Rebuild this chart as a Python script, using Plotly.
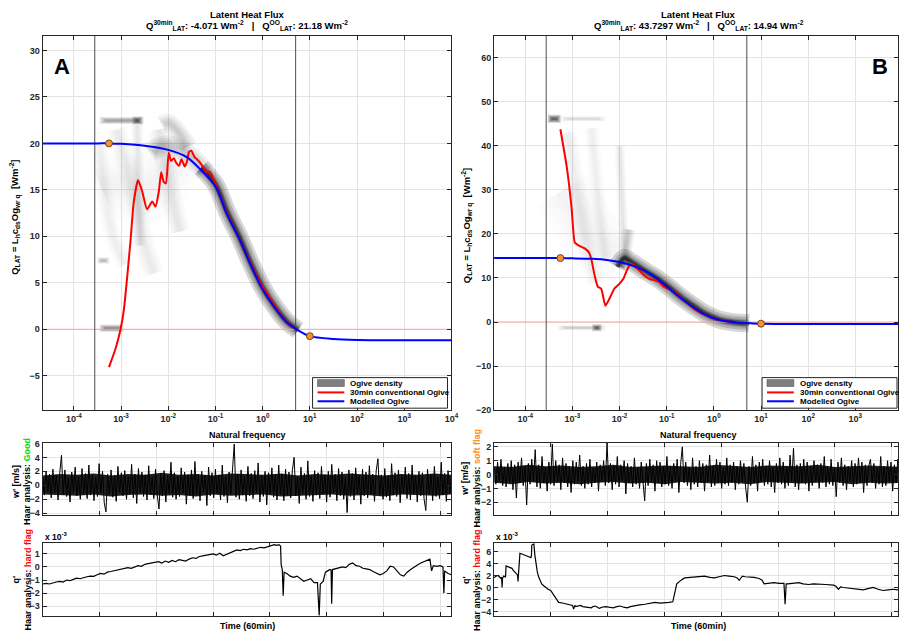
import plotly.graph_objects as go

W, H = 905, 634
FONT = "Liberation Sans, Arial, sans-serif"
AX = "#262626"
GRID = "#e4e4e4"

# ---------------- panel A : ogives (log10 frequency, W m-2) ----------------
a_model_logf = [-4.7, -3.5, -3.2553, -3.0, -2.5, -2.0, -1.6, -1.3, -1.0, -0.75, -0.5,
                -0.25, 0.0, 0.25, 0.5, 0.7, 1.0, 1.5, 2.0, 3.0, 4.0]
a_model_q = [20.0, 20.0, 20.0, 19.95, 19.75, 19.3, 18.5, 17.1, 15.4, 12.3, 9.8,
             6.9, 4.3, 2.4, 0.8, 0.05, -0.74, -1.05, -1.15, -1.18, -1.18]
a_conv_logf = [-3.2553, -3.12, -3.01, -2.94, -2.87, -2.80, -2.73, -2.64, -2.55, -2.45,
               -2.34, -2.27, -2.20, -2.15, -2.10, -2.05, -1.99, -1.94, -1.88, -1.83,
               -1.77, -1.72, -1.65, -1.60, -1.56, -1.51, -1.44, -1.39, -1.34, -1.27,
               -1.20, -1.14, -1.09, -0.99, -0.88, -0.74, -0.53, -0.32, -0.11, 0.18,
               0.46, 0.699]
a_conv_q = [-4.071, -2.15, 0.0, 2.1, 5.6, 9.5, 13.7, 16.05, 14.8, 12.9,
            13.75, 13.2, 14.8, 16.9, 15.9, 15.7, 19.0, 18.1, 18.4, 17.9,
            17.6, 18.3, 17.5, 18.1, 19.1, 19.2, 18.5, 18.3, 18.0, 17.5,
            16.9, 17.0, 16.75, 15.5, 14.1, 12.3, 10.1, 7.8, 5.6, 3.15,
            1.0, 0.0]

# ---------------- panel B : ogives ----------------
b_model_logf = [-4.7, -3.5, -3.2553, -3.0, -2.6, -2.35, -2.0, -1.65, -1.30, -0.95,
                -0.60, -0.25, 0.10, 0.45, 0.70, 1.0, 1.5, 2.0, 3.0, 4.0]
b_model_q = [14.5, 14.5, 14.5, 14.45, 14.35, 14.2, 13.6, 12.5, 10.6, 7.6,
             4.6, 2.0, 0.5, -0.07, -0.22, -0.38, -0.43, -0.44, -0.44, -0.44]
b_conv_logf = [-3.2553, -3.12, -3.02, -2.95, -2.88, -2.74, -2.65, -2.60, -2.53, -2.46,
               -2.39, -2.30, -2.21, -2.11, -2.0, -1.92, -1.83, -1.76, -1.69, -1.58,
               -1.48, -1.37, -1.27, -1.16, -1.06, -0.95, -0.81, -0.60, -0.39, -0.11,
               0.17, 0.45, 0.699]
b_conv_q = [43.7297, 35.2, 26.2, 18.05, 17.45, 16.7, 15.8, 14.3, 10.6, 8.0,
            7.6, 3.7, 5.4, 7.6, 8.7, 9.8, 12.1, 13.2, 12.8, 11.7,
            10.6, 9.8, 9.5, 9.1, 8.0, 7.45, 6.7, 4.6, 2.75, 1.27,
            0.37, -0.07, -0.2]

# marker frequencies on the modelled ogive: 1/1800 Hz and 10 Hz
marker_logf = [-3.2553, 1.0]

# averaging-period and Nyquist limits (Hz)
f_period = 1 / 3600
f_nyquist = 5.0

# ---------------- ogive-density streaks (log10 f, flux) ----------------
da_core_f = [-1.3, -1.0, -0.75, -0.5, -0.25, 0.0, 0.25, 0.5, 0.75]
da_core_q = [17.4, 15.6, 12.6, 10.0, 7.1, 4.5, 2.5, 0.9, -0.1]
da_upper_f = [-2.4, -2.2, -2.0, -1.8, -1.6, -1.4, -1.2]
da_upper_q = [19.0, 19.6, 19.8, 19.5, 18.9, 18.0, 16.9]
da_cloud_f = [-2.15, -2.0, -1.85, -1.7, -1.55]
da_cloud_q = [22.0, 22.2, 21.6, 20.6, 19.6]
da_top_f = [-3.45, -3.1, -2.8, -2.52]
da_top_q = [22.45, 22.45, 22.45, 22.45]
da_topdark_f = [-2.76, -2.55]
da_topdark_q = [22.45, 22.45]
da_zero_f = [-3.45, -3.2, -2.95]
da_zero_q = [0.1, 0.1, 0.1]
da_low_f = [-3.5, -3.25]
da_low_q = [7.4, 7.4]
da_trail1_f = [-3.1, -2.9, -2.7, -2.5, -2.3]
da_trail1_q = [21.5, 18.0, 14.0, 9.0, 6.0]
da_trail2_f = [-2.66, -2.63, -2.6]
da_trail2_q = [22.0, 15.0, 9.0]
da_trail3_f = [-3.45, -3.3, -3.1, -2.9]
da_trail3_q = [20.0, 13.0, 9.0, 7.0]
da_trail4_f = [-2.2, -2.05, -1.9, -1.75]
da_trail4_q = [21.5, 17.5, 13.5, 10.5]
da_haze_f = [-3.4, -3.0, -2.6, -2.2, -1.8]
da_haze_q = [15.0, 15.5, 14.5, 16.0, 19.0]

db_core_f = [-2.05, -1.9, -1.8, -1.6, -1.4, -1.2, -0.95, -0.7, -0.45, -0.2, 0.1, 0.4, 0.75]
db_core_q = [12.5, 14.5, 14.0, 12.6, 11.2, 9.9, 7.9, 5.7, 3.8, 2.0, 0.6, -0.05, -0.3]
db_peak_f = [-1.9, -1.85, -1.8]
db_peak_q = [13.0, 17.5, 21.0]
db_top_f = [-3.52, -3.38, -3.25]
db_top_q = [46.1, 46.1, 46.1]
db_topfaint_f = [-3.25, -2.8, -2.3]
db_topfaint_q = [46.1, 46.1, 46.1]
db_bot_f = [-3.3, -2.8, -2.3]
db_bot_q = [-1.3, -1.3, -1.3]
db_botdark_f = [-2.58, -2.38]
db_botdark_q = [-1.3, -1.3]
db_trail1_f = [-3.1, -2.9, -2.7, -2.5]
db_trail1_q = [43.0, 30.0, 18.0, 9.0]
db_trail2_f = [-2.6, -2.45, -2.3]
db_trail2_q = [44.0, 28.0, 14.0]
db_trail3_f = [-2.0, -1.95, -1.9]
db_trail3_q = [40.0, 28.0, 16.0]
db_haze_f = [-3.2, -2.9, -2.6, -2.3, -2.0]
db_haze_q = [30.0, 25.0, 20.0, 17.0, 16.0]

# ---------------- time series (60 min record) ----------------
wa = [1.2, -1.4, 2.0, -0.9, 1.6, -1.8, 2.3, -1.1, 1.4, -2.1, 1.8, 4.3, -1.3, 2.2, -1.6, 1.1, -2.4, 1.9, -1.0, 2.6,
      -1.5, 1.3, -2.0, 2.4, -1.2, 1.7, -1.9, 2.9, -1.4, 1.5, -2.2, 1.2, -1.6, 3.1, -1.1, 2.0, -2.5, -3.8, 1.6, -1.3,
      2.2, -1.7, 1.4, -2.3, 2.7, -1.0, 1.8, -1.5, 2.1, -2.0, 1.3, -1.2, 3.0, -1.8, 1.6, -2.6, 2.4, -1.1, 1.9, -1.6,
      1.5, -2.1, 2.8, -1.3, 1.2, -1.9, 2.3, -1.4, -3.4, 1.7, -1.5, 2.1, -2.4, 1.4, -1.2, 3.3, -1.7, 1.8, -2.0, 1.3,
      -1.6, 2.5, -1.1, 1.9, -2.7, 1.5, -1.4, 2.2, -1.9, 3.4, -1.3, 1.6, -2.2, 2.0, -1.0, 1.4, -2.9, 2.6, -1.5, 1.8,
      -1.8, 2.3, -1.2, 1.5, -2.1, 2.9, -1.6, 1.2, -2.5, 1.9, -1.3, 2.4, 5.9, -1.7, 1.6, -2.0, 2.2, -1.4, 1.3, -2.3,
      2.7, -1.5, 1.7, -1.9, 2.1, -1.1, 3.2, -2.4, 1.4, -1.6, 2.0, -2.8, 1.8, -1.2, 2.5, -1.7, 1.5, -2.1, 2.9, -1.3,
      1.6, -2.2, 2.3, -1.4, 1.9, -1.8, 2.2, 4.0, -1.5, 1.3, -2.6, 2.6, -1.2, 1.7, -2.0, 3.5, -1.6, 1.4, -2.3, 2.1,
      -1.4, 1.8, -1.9, 2.7, -1.3, 1.5, -2.4, 2.0, -1.7, 3.0, -1.1, 1.6, -2.2, 2.4, -1.5, 1.9, -2.0, 1.2, -3.9, 2.2,
      -1.6, 1.7, -2.1, 2.5, -1.2, 1.4, -2.7, 2.3, -1.5, 1.9, -1.8, 2.8, -1.3, 1.6, -2.3, 2.1, 3.8, -1.4, 1.5, -2.0,
      2.4, -1.7, 1.3, -2.2, 3.1, -1.4, 1.8, -1.6, 2.2, -2.5, 1.5, -1.2, 2.6, -1.9, 1.7, -2.1, 2.9, -1.3, 1.4, -2.4,
      2.0, -1.5, 1.8, -2.0, -3.6, 2.3, -1.3, 1.6, -2.2, 2.7, -1.6, 1.2, -1.9, 3.3, -1.4, 1.7, -2.3, 2.1, -1.1, 1.5]
wb = [0.6, -0.7, 0.9, -0.5, 1.1, -0.8, 0.5, -0.9, 0.8, -0.6, 1.0, -1.1, 0.7, -1.7, 0.9, -0.6, 1.2, -0.8, 0.6, -2.2,
      0.8, -0.7, 1.1, -0.5, 1.8, -0.9, 0.7, -1.0, 1.3, -0.6, 0.5, -1.2, 0.9, -0.7, 2.2, -0.8, 1.0, -0.5, 0.7, -1.1,
      1.2, -0.6, 0.8, -0.9, 0.6, -1.3, 1.0, -0.7, 0.9, -0.5, 1.4, -0.8, 0.6, -1.0, 0.8, -0.7, 1.1, -0.9, 0.5, -0.6,
      0.9, -1.2, 0.7, -0.5, 1.0, -0.8, 2.3, -0.6, 0.8, -1.1, 0.6, -0.7, 1.3, -0.9, 0.7, -0.5, 1.0, -1.4, 0.8, -0.6,
      0.6, -0.9, 1.2, -0.7, 0.5, -1.0, 0.9, -0.6, -1.9, 0.8, -0.8, 1.1, -0.5, 0.7, -1.2, 1.0, -0.6, 0.9, -0.9, 0.6,
      -0.7, 1.3, -0.8, 0.6, -1.0, 0.8, -0.5, 1.1, -1.3, 0.7, 2.0, -0.6, 0.9, -0.8, 0.5, -1.1, 1.2, -0.7, 0.6, -0.9,
      1.0, -0.6, 0.8, -1.2, 0.7, -0.5, 1.4, -0.9, 0.6, -0.8, 1.1, -0.6, 0.9, -1.0, 0.5, -0.7, 1.2, -0.8, 0.7, -0.6,
      0.9, -1.1, 0.6, -0.7, 1.0, -0.5, 0.8, -0.9, -2.0, 0.6, -0.8, 1.3, -0.6, 0.7, -1.2, 0.9, -0.5, 1.1, -0.8, 0.6,
      -0.7, 1.0, -0.9, 0.5, -1.3, 0.8, -0.6, 1.2, -0.7, 0.9, -1.0, 0.6, -0.8, 1.4, -0.5, 1.9, -0.9, 0.7, -1.1, 0.8,
      -0.6, 1.1, -0.7, 0.9, -1.2, 0.6, -0.8, 1.0, -0.5, 0.7, -1.0, 0.8, -0.6, 1.3, -0.9, 0.6, -0.7, 1.1, -0.8, 0.5,
      -1.6, 0.9, -0.6, 1.2, -0.8, 0.7, -1.1, 0.6, -0.5, 1.0, -0.9, 0.8, -0.7, 1.2, -0.6, 0.9, -1.3, 0.7, -0.8, 0.6,
      1.1, -0.6, 0.8, -1.0, 0.5, -0.7, 1.3, -0.9, 0.6, -0.8, 1.0, -0.5, 0.9, -1.2, 0.7, -0.6, 1.1, -0.8, 0.6, -0.7]

# dense core of w' (upper / lower edge of the solid band)
wa_core_hi = [1.4, 1.6, 1.5, 1.7, 1.4, 1.6, 1.5, 1.8, 1.5, 1.6, 1.4, 1.7, 1.6, 1.5, 1.7, 1.4, 1.6, 1.5, 1.7,
              1.6, 1.4, 1.6, 1.5, 1.7, 1.5]
wa_core_lo = [-1.3, -1.4, -1.5, -1.3, -1.6, -1.4, -1.3, -1.5, -1.4, -1.6, -1.3, -1.5, -1.4, -1.3, -1.6, -1.5,
              -1.4, -1.3, -1.5, -1.4, -1.6, -1.3, -1.4, -1.5, -1.3]
wb_core_hi = [0.6, 0.55, 0.7, 0.6, 0.65, 0.55, 0.6, 0.7, 0.55, 0.6, 0.65, 0.6, 0.55, 0.7, 0.6, 0.55, 0.65, 0.6,
              0.6, 0.7, 0.55, 0.6, 0.65, 0.6, 0.55]
wb_core_lo = [-0.6, -0.7, -0.55, -0.65, -0.6, -0.7, -0.6, -0.55, -0.65, -0.6, -0.7, -0.55, -0.6, -0.65, -0.6,
              -0.7, -0.55, -0.6, -0.65, -0.6, -0.55, -0.7, -0.6, -0.65, -0.6]

# humidity fluctuation q' (x 1e-3), time in seconds
qa_t = [0, 30, 60, 90, 120, 150, 180, 210, 240, 270, 300, 330, 360, 390, 420, 450, 480, 510, 540, 570,
        600, 630, 660, 690, 720, 750, 780, 810, 840, 870, 900, 930, 960, 990, 1020, 1050, 1080, 1110,
        1140, 1170, 1200, 1230, 1260, 1290, 1320, 1350, 1380, 1410, 1440, 1470, 1500, 1530, 1560, 1590,
        1620, 1650, 1680, 1710, 1740, 1770, 1800, 1830, 1860, 1890, 1920, 1950, 1980, 2010, 2040, 2060,
        2080, 2095, 2100, 2110, 2118, 2126, 2150, 2180, 2210, 2240, 2270, 2300, 2330, 2360, 2390, 2420,
        2435, 2445, 2470, 2490, 2510, 2530, 2540, 2545, 2552, 2580, 2610, 2640, 2670, 2700, 2730, 2760,
        2790, 2820, 2850, 2880, 2910, 2940, 2970, 3000, 3030, 3060, 3090, 3120, 3150, 3180, 3210, 3240,
        3270, 3300, 3330, 3360, 3390, 3410, 3425, 3440, 3470, 3500, 3525, 3533, 3540, 3570, 3600]
qa = [-1.3, -1.25, -1.3, -1.2, -1.15, -1.1, -1.15, -1.0, -1.05, -0.95, -0.85, -0.9, -0.8, -0.75, -0.7,
      -0.72, -0.6, -0.5, -0.55, -0.4, -0.35, -0.3, -0.25, -0.2, -0.15, -0.05, -0.1, 0.0, 0.1, 0.05,
      0.2, 0.25, 0.3, 0.35, 0.4, 0.3, 0.45, 0.35, 0.5, 0.4, 0.55, 0.5, 0.45, 0.6, 0.7, 0.65, 0.8, 0.85,
      0.9, 0.95, 1.0, 0.9, 1.05, 0.85, 0.95, 1.1, 1.2, 1.3, 1.25, 1.35, 1.3, 1.4, 1.35, 1.45, 1.5, 1.45,
      1.55, 1.6, 1.7, 1.65, 1.7, 1.6, 0.2, -0.2, -2.2, -0.4, -0.5, -0.7, -0.8, -0.7, -0.9, -1.1, -1.0,
      -0.9, -1.2, -1.2, -3.7, -1.3, -1.1, -0.4, -0.3, -0.2, -0.25, -2.8, -0.2, -0.15, -0.1, 0.0, -0.05,
      0.2, 0.3, 0.1, 0.05, -0.1, -0.15, -0.2, -0.35, -0.5, -0.6, -0.5, -0.3, 0.05, 0.0, -0.3, -0.6,
      -0.7, -0.4, -0.2, 0.0, 0.15, 0.3, 0.4, 0.5, 0.6, -0.3, 0.1, 0.05, 0.1, 0.0, -2.0, -0.3, -0.5, -0.6]
qb_t = [0, 15, 35, 50, 61, 66, 70, 74, 85, 96, 100, 105, 118, 131, 145, 157, 170, 183, 195, 201, 206,
        210, 214, 220, 227, 245, 262, 280, 297, 310, 323, 328, 332, 341, 350, 358, 367, 380, 393, 406,
        419, 436, 454, 475, 498, 520, 542, 555, 568, 600, 629, 650, 673, 690, 700, 710, 717, 740, 760,
        780, 804, 830, 856, 870, 891, 910, 926, 950, 979, 1010, 1049, 1080, 1110, 1140, 1171, 1200, 1241,
        1280, 1328, 1370, 1416, 1460, 1503, 1540, 1573, 1590, 1608, 1625, 1643, 1660, 1678, 1720, 1765,
        1800, 1852, 1900, 1940, 1980, 2027, 2070, 2115, 2140, 2158, 2170, 2185, 2210, 2246, 2290, 2333,
        2360, 2377, 2420, 2464, 2510, 2552, 2562, 2572, 2586, 2630, 2683, 2720, 2770, 2810, 2857, 2920,
        2988, 3010, 3032, 3050, 3076, 3120, 3163, 3200, 3251, 3290, 3338, 3380, 3425, 3470, 3513, 3560,
        3600]
qb = [1.6, 1.9, 2.0, 1.6, 1.5, 1.7, 0.0, 1.6, 1.9, 1.8, 1.7, 3.6, 3.5, 3.4, 3.3, 3.2, 2.8, 2.6, 2.3,
      2.2, 2.1, 1.0, 2.2, 2.4, 5.7, 5.6, 5.5, 5.4, 5.3, 5.1, 5.0, 5.3, 7.1, 7.2, 7.3, 5.5, 3.9, 2.6,
      1.7, 1.0, 0.6, 0.3, 0.0, -0.3, -0.5, -1.2, -1.8, -2.2, -2.5, -2.6, -2.7, -2.8, -2.9, -3.0, -3.6,
      -3.0, -3.2, -3.1, -3.0, -3.2, -3.3, -3.3, -3.4, -3.2, -3.1, -3.3, -3.5, -3.3, -3.2, -3.3, -3.4,
      -3.2, -3.1, -3.3, -3.4, -3.2, -3.0, -2.9, -2.8, -2.6, -2.5, -2.6, -2.6, -2.5, -2.4, -1.0, 0.6,
      0.9, 1.2, 1.4, 1.6, 1.7, 1.7, 1.8, 1.9, 1.7, 1.6, 1.8, 2.0, 1.9, 1.8, 1.6, 1.2, 1.5, 1.9, 1.8,
      1.8, 1.7, 1.5, 1.2, 0.6, 0.7, 0.8, 0.7, 0.7, -2.8, 0.6, 0.6, 0.7, 0.8, 0.6, 0.5, 0.6, 0.6, 0.5,
      0.4, 0.2, -0.3, 0.1, 0.0, -0.1, -0.2, -0.3, -0.4, -0.2, 0.0, -0.3, -0.5, -0.4, -0.3, -0.4, -0.4]

record_s = 3600
grid_step_s = 500


def fx(p):
    return p / W


def fy(p):
    return 1 - p / H


def lg(v):
    return [10 ** x for x in v]


def even_t(n):
    return [i * record_s / (n - 1) for i in range(n)]


fig = go.Figure()


def soft_streak(f, q, width, alpha, xa, ya, taper=0.06):
    # stacked translucent strokes, each a little shorter, give a soft-edged density streak
    for frac in (1.0, 0.72, 0.48, 0.28):
        cut = (1.0 - frac) * taper
        ff = list(f)
        ff[0] = f[0] + cut
        ff[-1] = f[-1] - cut
        fig.add_trace(go.Scatter(x=lg(ff), y=q, mode="lines", xaxis=xa, yaxis=ya,
                                 line=dict(color=f"rgba(0,0,0,{alpha})", width=width * frac,
                                           shape="spline"),
                                 hoverinfo="skip", showlegend=False))


# (path, width px, layer alpha, end taper in decades)
dens_a = [(da_haze_f, da_haze_q, 60, 0.012, 0.0),
          (da_trail3_f, da_trail3_q, 16, 0.016, 0.0), (da_trail1_f, da_trail1_q, 20, 0.02, 0.0),
          (da_trail2_f, da_trail2_q, 12, 0.025, 0.0), (da_trail4_f, da_trail4_q, 20, 0.022, 0.0),
          (da_cloud_f, da_cloud_q, 18, 0.05, 0.1), (da_upper_f, da_upper_q, 20, 0.06, 0.15),
          (da_core_f, da_core_q, 18, 0.16, 0.0), (da_core_f, da_core_q, 6, 0.2, 0.0),
          (da_top_f, da_top_q, 7, 0.1, 0.15), (da_topdark_f, da_topdark_q, 8, 0.17, 0.12),
          (da_zero_f, da_zero_q, 7, 0.14, 0.15), (da_low_f, da_low_q, 6, 0.08, 0.1)]
dens_b = [(db_haze_f, db_haze_q, 60, 0.01, 0.0),
          (db_trail1_f, db_trail1_q, 18, 0.016, 0.0), (db_trail2_f, db_trail2_q, 14, 0.016, 0.0),
          (db_trail3_f, db_trail3_q, 10, 0.022, 0.0), (db_peak_f, db_peak_q, 12, 0.05, 0.0),
          (db_core_f, db_core_q, 18, 0.16, 0.1), (db_core_f, db_core_q, 6, 0.2, 0.0),
          (db_top_f, db_top_q, 8, 0.2, 0.1), (db_topfaint_f, db_topfaint_q, 5, 0.04, 0.2),
          (db_bot_f, db_bot_q, 5, 0.05, 0.2), (db_botdark_f, db_botdark_q, 7, 0.17, 0.1)]

panels = [("x", "y", dens_a, a_model_logf, a_model_q, a_conv_logf, a_conv_q, (-8.7, 31.6)),
          ("x2", "y2", dens_b, b_model_logf, b_model_q, b_conv_logf, b_conv_q, (-20, 65))]

for xa, ya, dens, mlf, mq, clf, cq, yr in panels:
    for f, q, w, a, tp in dens:
        soft_streak(f, q, w, a, xa, ya, tp)
    fig.add_trace(go.Scatter(x=[10 ** -4.7, 10 ** 4.0], y=[0, 0], mode="lines", xaxis=xa, yaxis=ya,
                             line=dict(color="#ffa3a3", width=1), showlegend=False))
    for fv in (f_period, f_nyquist):
        fig.add_trace(go.Scatter(x=[fv, fv], y=list(yr), mode="lines", xaxis=xa, yaxis=ya,
                                 line=dict(color="#4d4d4d", width=1), showlegend=False))
    fig.add_trace(go.Scatter(x=lg(clf), y=cq, mode="lines", xaxis=xa, yaxis=ya,
                             line=dict(color="#ff0000", width=2, shape="spline", smoothing=0.5),
                             name="30min conventional Ogive", showlegend=False))
    fig.add_trace(go.Scatter(x=lg(mlf), y=mq, mode="lines", xaxis=xa, yaxis=ya,
                             line=dict(color="#0000ff", width=2, shape="spline", smoothing=0.8),
                             name="Modelled Ogive", showlegend=False))
    mk = [mlf.index(v) for v in marker_logf]
    fig.add_trace(go.Scatter(x=[10 ** mlf[i] for i in mk], y=[mq[i] for i in mk], mode="markers",
                             xaxis=xa, yaxis=ya,
                             marker=dict(color="#f39031", size=7, line=dict(color="#5a3000", width=0.8)),
                             showlegend=False))

# vertical velocity panels: solid core band plus the sample trace
for xa, ya, vals, hi, lo in (("x3", "y3", wa, wa_core_hi, wa_core_lo),
                             ("x4", "y4", wb, wb_core_hi, wb_core_lo)):
    tc = even_t(len(hi))
    fig.add_trace(go.Scatter(x=tc, y=lo, mode="lines", xaxis=xa, yaxis=ya,
                             line=dict(color="rgba(0,0,0,0)", width=0), showlegend=False))
    fig.add_trace(go.Scatter(x=tc, y=hi, mode="lines", xaxis=xa, yaxis=ya, fill="tonexty",
                             fillcolor="rgba(0,0,0,0.88)", line=dict(color="rgba(0,0,0,0)", width=0),
                             showlegend=False))
    fig.add_trace(go.Scatter(x=even_t(len(vals)), y=vals, mode="lines", xaxis=xa, yaxis=ya,
                             line=dict(color="#000000", width=1), showlegend=False))
for xa, ya, t, vals in (("x5", "y5", qa_t, qa), ("x6", "y6", qb_t, qb)):
    fig.add_trace(go.Scatter(x=t, y=vals, mode="lines", xaxis=xa, yaxis=ya,
                             line=dict(color="#000000", width=1.2), showlegend=False))

tick_font = dict(family=FONT, size=9, color="#262626", weight="bold")
base = dict(showline=True, linecolor=AX, linewidth=1, mirror="ticks", ticks="inside",
            ticklen=4, tickcolor=AX, showgrid=True, gridcolor=GRID, gridwidth=1,
            zeroline=False, tickfont=tick_font)

dec = list(range(-4, 5))
log_vals = [10 ** k for k in dec]
log_text = [f"10<sup>{k}</sup>" for k in dec]
time_ticks = list(range(0, record_s + 1, grid_step_s))

xl = [fx(43), fx(455)]
xr = [fx(498), 1.0]
y_main = [fy(412), fy(32)]
y_w = [fy(518), fy(445)]
y_q = [fy(621), fy(547)]

fig.update_layout(
    width=W, height=H, margin=dict(l=0, r=0, t=0, b=0),
    paper_bgcolor="white", plot_bgcolor="white",
    font=dict(family=FONT, size=9, color="#262626"),
    xaxis=dict(base, type="log", range=[-4.66, 4.0], domain=xl, anchor="y",
               tickvals=log_vals, ticktext=log_text),
    yaxis=dict(base, range=[-8.7, 31.6], domain=y_main, anchor="x", tickvals=list(range(-5, 31, 5))),
    xaxis2=dict(base, type="log", range=[-4.66, 3.905], domain=xr, anchor="y2",
                tickvals=log_vals, ticktext=log_text),
    yaxis2=dict(base, range=[-20, 65], domain=y_main, anchor="x2", tickvals=list(range(-20, 61, 10))),
    xaxis3=dict(base, range=[0, record_s], domain=xl, anchor="y3",
                tickvals=time_ticks, showticklabels=False),
    yaxis3=dict(base, range=[-4.2, 6.1], domain=y_w, anchor="x3", tickvals=[-4, -2, 0, 2, 4, 6]),
    xaxis4=dict(base, range=[0, record_s * 407 / 412], domain=xr, anchor="y4",
                tickvals=time_ticks, showticklabels=False),
    yaxis4=dict(base, range=[-2.9, 2.3], domain=y_w, anchor="x4", tickvals=[-2, -1, 0, 1, 2]),
    xaxis5=dict(base, range=[0, record_s], domain=xl, anchor="y5",
                tickvals=time_ticks, showticklabels=False),
    yaxis5=dict(base, range=[-3.76, 1.81], domain=y_q, anchor="x5", tickvals=[-3, -2, -1, 0, 1]),
    xaxis6=dict(base, range=[0, record_s * 407 / 412], domain=xr, anchor="y6",
                tickvals=time_ticks, showticklabels=False),
    yaxis6=dict(base, range=[-4.8, 7.4], domain=y_q, anchor="x6", tickvals=[-4, -2, 0, 2, 4, 6]),
)

ann = []


def text(x, y, s, size=9, angle=0, xanchor="center", yanchor="middle", color="#000000"):
    ann.append(dict(x=fx(x), y=fy(y), xref="paper", yref="paper", text=s, showarrow=False,
                    textangle=angle, xanchor=xanchor, yanchor=yanchor,
                    font=dict(family=FONT, size=size, color=color, weight="bold")))


ylab = "Q<sub>LAT</sub> = L<sub>h</sub>c<sub>ds</sub>Og<sub>wr q</sub>  [Wm<sup>-2</sup>]"
for cx, q30, qoo in ((249, "-4.071", "21.18"), (704, "43.7297", "14.94")):
    text(cx, 11, "Latent Heat Flux", size=9.5)
    text(cx, 22, f"Q<sup>30min</sup><sub>LAT</sub>: {q30} Wm<sup>-2</sup>   |   "
                 f"Q<sup>OO</sup><sub>LAT</sub>: {qoo} Wm<sup>-2</sup>", size=9.5)
    text(cx, 437, "Natural frequency", size=9)
    text(cx, 631, "Time (60min)", size=9)
text(62, 63, "A", size=22)
text(887, 63, "B", size=22)
text(15, 216, ylab, size=9.5, angle=-90)
text(470, 225, ylab, size=9.5, angle=-90)
text(22, 484, "w' [m/s]<br>Haar analysis: <span style='color:#00dd00'>Good</span>", angle=-90)
text(475, 481, "w' [m/s]<br>Haar analysis: <span style='color:#ff8c1a'>soft flag</span>", angle=-90)
text(22, 584, "q'<br>Haar analysis: <span style='color:#ff0000'>hard flag</span>", angle=-90)
text(475, 584, "q'<br>Haar analysis: <span style='color:#ff0000'>hard flag</span>", angle=-90)
text(43, 540, "x 10<sup>-3</sup>", xanchor="left", size=8.5)
text(498, 540, "x 10<sup>-3</sup>", xanchor="left", size=8.5)

# legend boxes
shapes = []
legend_items = ["Ogive density", "30min conventional Ogive", "Modelled Ogive"]
for x0 in (315, 768):
    shapes.append(dict(type="rect", xref="paper", yref="paper", x0=fx(x0), x1=fx(x0 + 136),
                       y0=fy(410), y1=fy(379), line=dict(color=AX, width=1), fillcolor="white"))
    shapes.append(dict(type="rect", xref="paper", yref="paper", x0=fx(x0 + 5), x1=fx(x0 + 32),
                       y0=fy(388), y1=fy(381), line=dict(color="#555555", width=0.6),
                       fillcolor="#7f7f7f"))
    for yy, col in ((394, "#ff0000"), (403, "#0000ff")):
        shapes.append(dict(type="line", xref="paper", yref="paper", x0=fx(x0 + 5), x1=fx(x0 + 32),
                           y0=fy(yy), y1=fy(yy), line=dict(color=col, width=2)))
    for yy, s in zip((384.5, 394, 403), legend_items):
        text(x0 + 36, yy, s, size=8, xanchor="left")

fig.update_layout(annotations=ann, shapes=shapes)
fig.write_html("out.html")
